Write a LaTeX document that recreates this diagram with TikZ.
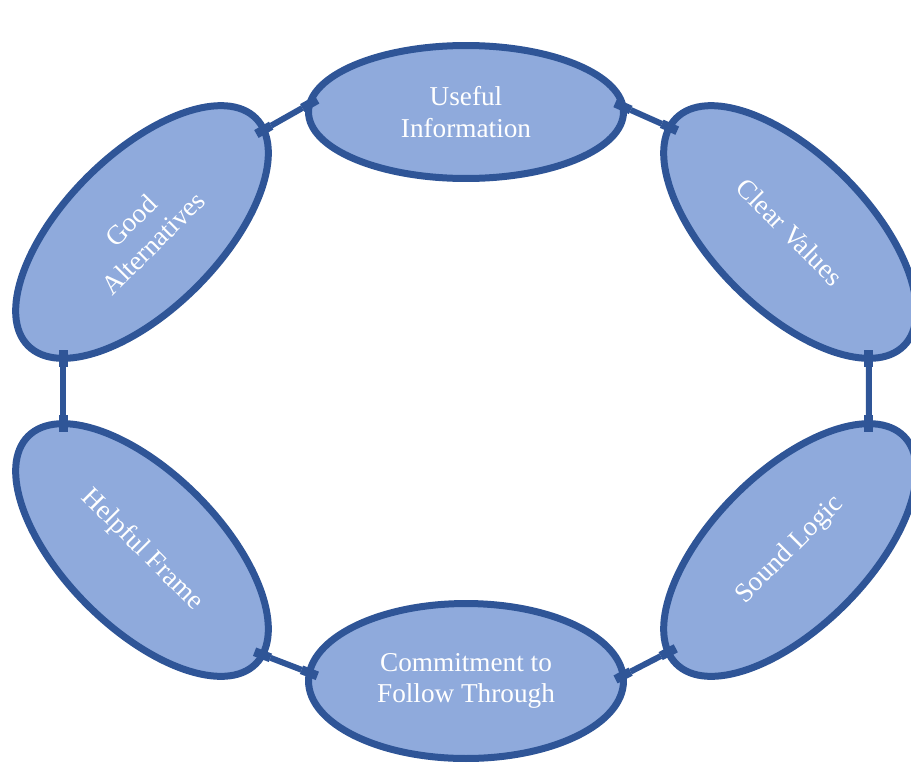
\documentclass[tikz,border=0pt]{standalone}
\usepackage{fontspec}
\setmainfont{Liberation Serif}
\usetikzlibrary{shapes.geometric,arrows.meta}
\definecolor{ringfill}{HTML}{8FAADC}
\definecolor{ringline}{HTML}{2F5597}
\begin{document}
\begin{tikzpicture}[x=0.02cm,y=-0.02cm,
  stage/.style={ellipse, draw=ringline, fill=ringfill, line width=0.14cm,
    inner sep=0pt, outer sep=0pt, text=white, align=center,
    font=\fontsize{15.5}{18}\selectfont},
  flat/.style={stage, minimum width=6.3cm, minimum height=2.66cm},
  tilted/.style={stage, minimum width=6.44cm, minimum height=3.1cm},
  stub/.tip={Rectangle[length=0.34cm,width=0.18cm,line width=0pt]},
  link/.style={draw=ringline, fill=ringline, line width=0.12cm,
    shorten <=-0.17cm, shorten >=-0.17cm, stub-stub}]
\useasboundingbox (0,0) rectangle (911,764);

% the six stages of the ring
\node[flat] (info) at (466,112) {Useful\\Information};
\node[flat, minimum height=3.1cm] (commit) at (466,681) {Commitment to\\Follow Through};
\node[tilted, rotate=45] (alt) at (142,232) {Good\\Alternatives};
\node[tilted, rotate=-45] (values) at (790,232) {Clear Values};
\node[tilted, rotate=-45] (frame) at (142,550) {Helpful Frame};
\node[tilted, rotate=45] (logic) at (790,550) {Sound Logic};

% links between neighbouring stages
\draw[link] (alt.355.7) -- (info.177.3);
\draw[link] (info.2.7) -- (values.184.9);
\draw[link] (values.347) -- (logic.13);
\draw[link] (logic.175.1) -- (commit.2.3);
\draw[link] (commit.177.7) -- (frame.4.6);
\draw[link] (frame.167) -- (alt.193);
\end{tikzpicture}
\end{document}
